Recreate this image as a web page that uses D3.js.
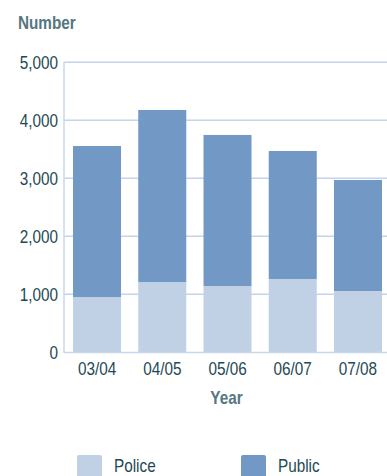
<!DOCTYPE html>
<html><head><meta charset="utf-8">
<script src="https://cdn.jsdelivr.net/npm/d3@7"></script>
<style>
body{margin:0;background:#fff;}
text{font-family:"Liberation Sans",Arial,sans-serif;}
</style></head>
<body><svg id="c" width="387" height="476"></svg>
<script>
const years = ["03/04","04/05","05/06","06/07","07/08"];
const police = [953,1212,1143,1264,1057];
const publicVals = [2604,2966,2604,2207,1914];
const yTicks = [0,1000,2000,3000,4000,5000];
const seriesNames = ["Police","Public"];
const colors = ["#c0d1e5","#7299c5"];

const SX = 0.85; // condensed look
const svg = d3.select("#c");
const x = d3.scaleBand().domain(years).range([64,391]).paddingInner(0.264).paddingOuter(0.138);
const y = d3.scaleLinear().domain([0,5000]).range([352.3,62.3]);

function label(g, tx, ty, txt, opts){
  const t = g.append("text").attr("transform",`translate(${tx},${ty}) scale(${SX},1)`)
    .attr("font-size",opts.size||18).attr("fill",opts.fill||"#1e4955")
    .attr("text-anchor",opts.anchor||"start").text(txt);
  if(opts.bold) t.attr("font-weight","bold");
  return t;
}

// gridlines
svg.append("g").selectAll("line").data(yTicks.filter(d=>d>0)).join("line")
  .attr("x1",64).attr("x2",387).attr("y1",d=>y(d)).attr("y2",d=>y(d))
  .attr("stroke","#c3d5ea").attr("stroke-width",1.5);

const data = years.map((yr,i)=>({year:yr,Police:police[i],Public:publicVals[i]}));
const stack = d3.stack().keys(seriesNames)(data);
svg.append("g").selectAll("g").data(stack).join("g")
  .attr("fill",(d,i)=>colors[i])
  .selectAll("rect").data(d=>d).join("rect")
  .attr("x",d=>x(d.data.year)).attr("width",x.bandwidth())
  .attr("y",d=>y(d[1])).attr("height",d=>y(d[0])-y(d[1]));

// axes lines
svg.append("line").attr("x1",64).attr("x2",64).attr("y1",62).attr("y2",353)
  .attr("stroke","#c8d8ec").attr("stroke-width",1.5);
svg.append("line").attr("x1",64).attr("x2",387).attr("y1",352.5).attr("y2",352.5)
  .attr("stroke","#c8d8ec").attr("stroke-width",1.5);

const fmt = d3.format(",");
const gy = svg.append("g");
yTicks.forEach(d=>label(gy,58,y(d)+6.2,fmt(d),{anchor:"end"}));

const gx = svg.append("g");
years.forEach(d=>label(gx,x(d)+x.bandwidth()/2,374.5,d,{anchor:"middle"}));

label(svg,18,29,"Number",{bold:true,fill:"#557782"});
label(svg,226.5,403.5,"Year",{bold:true,fill:"#557782",anchor:"middle"});

// legend
const lx = [77,241];
seriesNames.forEach((s,i)=>{
  const g = svg.append("g").attr("transform",`translate(${lx[i]},455)`);
  g.append("rect").attr("width",25).attr("height",25).attr("rx",2).attr("fill",colors[i]);
  label(g,37,16.5,s,{});
});
</script></body></html>
